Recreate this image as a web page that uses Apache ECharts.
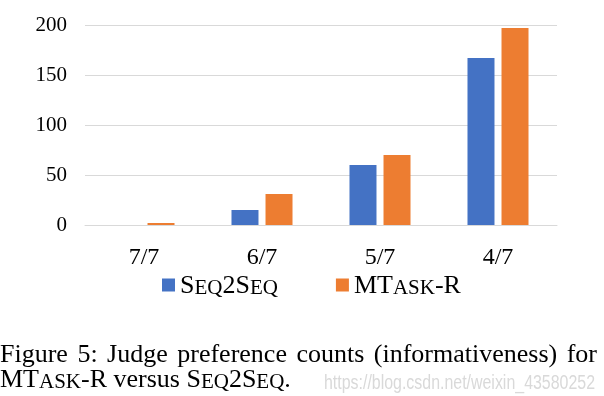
<!DOCTYPE html>
<html>
<head>
<meta charset="utf-8">
<script src="https://cdn.jsdelivr.net/npm/echarts@6/dist/echarts.min.js"></script>
<style>
  html, body {margin: 0; padding: 0; background: #fff;}
  #main {width: 604px; height: 396px;}
</style>
</head>
<body>
<div id="main"></div>
<script>
const categories = ['7/7', '6/7', '5/7', '4/7'];
const seq2seq = [0, 15, 60, 167];
const mtaskR = [2, 31, 70, 197];
const yTicks = [0, 50, 100, 150, 200];

const serif = '"Liberation Serif", "Times New Roman", serif';
const sans = '"Liberation Sans", Arial, sans-serif';
const blue = '#4472C4';
const orange = '#ED7D31';

// small caps rich styles
const rich = {
  n: {fontFamily: serif, fontSize: 26, color: '#000', lineHeight: 28, verticalAlign: 'bottom'},
  s: {fontFamily: serif, fontSize: 21, color: '#000', lineHeight: 28, verticalAlign: 'bottom'}
};
const legendText = {
  'Seq2Seq': '{n|S}{s|EQ}{n|2S}{s|EQ}',
  'MTask-R': '{n|MT}{s|ASK}{n|-R}'
};

// justify first caption line
const captionWords = ['Figure', '5:', 'Judge', 'preference', 'counts', '(informativeness)', 'for'];
const ctx = document.createElement('canvas').getContext('2d');
ctx.font = '26px ' + serif;
const widths = captionWords.map(w => ctx.measureText(w).width);
const lineW = 597;
const gap = (lineW - widths.reduce((a, b) => a + b, 0)) / (captionWords.length - 1);
let cx = 0;
const wordEls = captionWords.map((w, i) => {
  const el = {
    type: 'text', x: cx, y: 355,
    style: {text: w, font: '26px ' + serif, fill: '#000', verticalAlign: 'middle'}
  };
  cx += widths[i] + gap;
  return el;
});

// watermark, squeezed to its width in the picture
const wmText = 'https://blog.csdn.net/weixin_43580252';
ctx.font = '20px ' + sans;
const wmScale = 271 / ctx.measureText(wmText).width;

let myChart = echarts.init(document.getElementById('main'));
myChart.setOption({
  animation: false,
  grid: {left: 85, right: 47, top: 25, bottom: 171},
  legend: {
    left: 157,
    top: 268,
    itemWidth: 13,
    itemHeight: 13,
    itemGap: 58,
    icon: 'rect',
    formatter(name) {
      return legendText[name];
    },
    textStyle: {rich}
  },
  xAxis: {
    type: 'category',
    data: categories,
    axisTick: {show: false},
    axisLine: {lineStyle: {color: '#d9d9d9', width: 1}},
    axisLabel: {
      margin: 21,
      color: '#000',
      fontFamily: serif,
      fontSize: 24
    }
  },
  yAxis: {
    type: 'value',
    min: 0,
    max: 200,
    interval: 50,
    axisLine: {show: false},
    axisTick: {show: false},
    splitLine: {lineStyle: {color: '#d9d9d9'}},
    axisLabel: {
      margin: 18,
      color: '#000',
      fontFamily: serif,
      fontSize: 21,
      formatter(val) {
        return yTicks.includes(val) ? String(val) : '';
      }
    }
  },
  series: [
    {name: 'Seq2Seq', type: 'bar', data: seq2seq, barWidth: 27, barGap: '26%', itemStyle: {color: blue}},
    {name: 'MTask-R', type: 'bar', data: mtaskR, barWidth: 27, itemStyle: {color: orange}}
  ],
  graphic: [
    ...wordEls,
    {
      type: 'text',
      x: 0,
      y: 380,
      style: {
        text: '{n|MT}{s|ASK}{n|-R versus S}{s|EQ}{n|2S}{s|EQ}{n|.}',
        verticalAlign: 'middle',
        rich: {
          n: {fontFamily: serif, fontSize: 26, fill: '#000', lineHeight: 26, verticalAlign: 'bottom'},
          s: {fontFamily: serif, fontSize: 21, fill: '#000', lineHeight: 26, verticalAlign: 'bottom'}
        }
      }
    },
    {
      type: 'text',
      x: 324,
      y: 383,
      scaleX: wmScale,
      style: {
        text: wmText,
        font: '20px ' + sans,
        fill: '#d9d9d9',
        verticalAlign: 'middle'
      }
    }
  ]
});
</script>
</body>
</html>
